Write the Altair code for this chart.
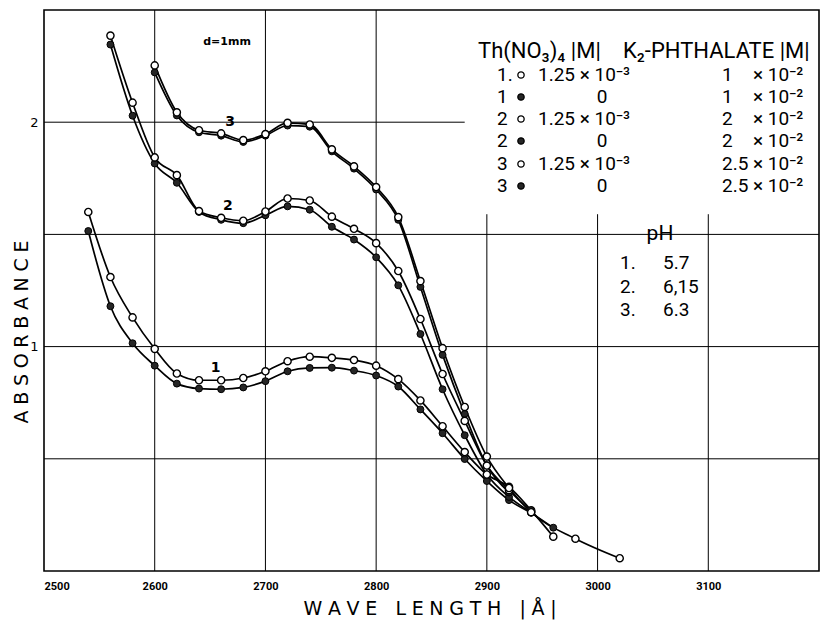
import altair as alt
import pandas as pd

# ---------------- data ----------------
c1_open_wl = [2540, 2560, 2580, 2600, 2620, 2640, 2660, 2680, 2700, 2720, 2740, 2760, 2780,
              2800, 2820, 2840, 2860, 2880, 2900, 2920, 2940, 2960]
c1_open_ab = [1.60, 1.31, 1.13, 0.99, 0.88, 0.85, 0.85, 0.86, 0.89, 0.935, 0.955, 0.95, 0.94,
              0.915, 0.855, 0.76, 0.645, 0.53, 0.43, 0.375, 0.27, 0.153]

c1_fill_wl = [2540, 2560, 2580, 2600, 2620, 2640, 2660, 2680, 2700, 2720, 2740, 2760, 2780,
              2800, 2820, 2840, 2860, 2880, 2900, 2920, 2940]
c1_fill_ab = [1.515, 1.18, 1.015, 0.915, 0.835, 0.813, 0.81, 0.818, 0.846, 0.89, 0.905, 0.906, 0.893,
              0.871, 0.822, 0.72, 0.614, 0.499, 0.401, 0.316, 0.26]

c2_open_wl = [2560, 2580, 2600, 2620, 2640, 2660, 2680, 2700, 2720, 2740, 2760, 2780, 2800,
              2820, 2840, 2860, 2880, 2900, 2920, 2940]
c2_open_ab = [2.386, 2.087, 1.843, 1.764, 1.604, 1.574, 1.561, 1.602, 1.66, 1.651, 1.579, 1.525, 1.461,
              1.337, 1.123, 0.878, 0.669, 0.47, 0.36, 0.265]

c2_fill_wl = [2560, 2580, 2600, 2620, 2640, 2660, 2680, 2700, 2720, 2740, 2760, 2780, 2800,
              2820, 2840, 2860, 2880, 2900, 2920, 2940, 2960]
c2_fill_ab = [2.346, 2.029, 1.816, 1.73, 1.60, 1.565, 1.55, 1.585, 1.625, 1.61, 1.534, 1.477, 1.398,
              1.273, 1.056, 0.81, 0.605, 0.43, 0.33, 0.26, 0.193]

c3_open_wl = [2600, 2620, 2640, 2660, 2680, 2700, 2720, 2740, 2760, 2780, 2800, 2820, 2840,
              2860, 2880, 2900, 2920, 2940, 2980, 3020]
c3_open_ab = [2.253, 2.044, 1.964, 1.95, 1.92, 1.947, 1.997, 1.99, 1.879, 1.803, 1.711, 1.577, 1.292,
              0.993, 0.731, 0.51, 0.37, 0.262, 0.144, 0.057]

c3_fill_wl = [2600, 2620, 2640, 2660, 2680, 2700, 2720, 2740, 2760, 2780, 2800, 2820, 2840,
              2860, 2880, 2900, 2920]
c3_fill_ab = [2.222, 2.03, 1.955, 1.94, 1.912, 1.94, 1.985, 1.98, 1.87, 1.793, 1.70, 1.565, 1.266,
              0.963, 0.70, 0.47, 0.35]

# grid lines (the upper right part is left free for the legend table)
vgrid_x = [2600, 2700, 2800, 2900, 3000, 3100]
vgrid_top = [2.5, 2.5, 2.5, 1.59, 1.59, 1.59]
hgrid_y = [2.0, 1.5, 1.0, 0.5]
hgrid_end = [2880, 3200, 3200, 3200]

x_ticks = [2500, 2600, 2700, 2800, 2900, 3000, 3100]
y_ticks = [1, 2]

curve_names = ["1", "2", "3"]
curve_label_wl = [2655, 2666, 2668]
curve_label_ab = [0.905, 1.625, 2.0]

th_rows = ["1.", "1", "2", "2", "3", "3"]
th_open = [True, False, True, False, True, False]
th_conc = ["1.25 × 10⁻³", "0", "1.25 × 10⁻³", "0", "1.25 × 10⁻³", "0"]
k2_mult = ["1", "1", "2", "2", "2.5", "2.5"]
k2_power = ["× 10⁻²"] * 6
ph_labels = ["1.", "2.", "3."]
ph_values = ["5.7", "6,15", "6.3"]

# ---------------- build ----------------
FONT = "Roboto, DejaVu Sans, sans-serif"
AFONT = "DejaVu Sans, sans-serif"
TS = "\u2009\u200a"      # thin + hair space, used as letter spacing
WS = "\u00a0\u00a0\u00a0"  # word gap


def spaced(word):
    return TS.join(list(word))


def sdf(wl, ab, name):
    return pd.DataFrame({"wl": wl, "ab": ab, "series": name})


open_df = pd.concat([sdf(c1_open_wl, c1_open_ab, "1o"),
                     sdf(c2_open_wl, c2_open_ab, "2o"),
                     sdf(c3_open_wl, c3_open_ab, "3o")])
fill_df = pd.concat([sdf(c1_fill_wl, c1_fill_ab, "1f"),
                     sdf(c2_fill_wl, c2_fill_ab, "2f"),
                     sdf(c3_fill_wl, c3_fill_ab, "3f")])
all_df = pd.concat([open_df, fill_df])

xs = alt.Scale(domain=[2500, 3200], nice=False, zero=False)
ys = alt.Scale(domain=[0, 2.5], nice=False, zero=False)
x_axis = alt.Axis(values=x_ticks, format="d", grid=False, ticks=False, domain=False, title=None,
                  labelFontSize=11, labelFont=FONT, labelColor="black", labelPadding=9,
                  labelFontWeight="bold")
y_axis = alt.Axis(values=y_ticks, format="d", grid=False, ticks=False, domain=False, title=None,
                  labelFontSize=13, labelFont=AFONT, labelColor="black", labelPadding=6)


def X(f):
    return alt.X(f, type="quantitative", scale=xs, axis=x_axis)


def Y(f):
    return alt.Y(f, type="quantitative", scale=ys, axis=y_axis)


vg = alt.Chart(pd.DataFrame({"gx": vgrid_x, "gtop": vgrid_top, "gbot": [0] * len(vgrid_x)})).mark_rule(
    color="black", strokeWidth=1).encode(x=X("gx"), y=Y("gbot"), y2="gtop")
hg = alt.Chart(pd.DataFrame({"gy": hgrid_y, "gx0": [2500] * len(hgrid_y), "gx1": hgrid_end})).mark_rule(
    color="black", strokeWidth=1).encode(y=Y("gy"), x=X("gx0"), x2="gx1")

lines = alt.Chart(all_df).mark_line(interpolate="monotone", color="black", strokeWidth=1.7).encode(
    x=X("wl"), y=Y("ab"), detail="series:N")
pts_fill = alt.Chart(fill_df).mark_point(shape="circle", filled=True, size=48, fill="#262626",
                                         stroke="black", strokeWidth=1, opacity=1).encode(
    x=X("wl"), y=Y("ab"))
pts_open = alt.Chart(open_df).mark_point(shape="circle", filled=True, size=52, fill="white",
                                         stroke="black", strokeWidth=1.4, opacity=1).encode(
    x=X("wl"), y=Y("ab"))

clabels = alt.Chart(pd.DataFrame({"wl": curve_label_wl, "ab": curve_label_ab, "t": curve_names})).mark_text(
    fontSize=14, font=AFONT, color="black", fontWeight="bold").encode(x=X("wl"), y=Y("ab"), text="t:N")

layers = [vg, hg, lines, pts_fill, pts_open, clabels]


def txt(s, x, y, size=18, align="left", font=FONT, weight="normal", angle=0):
    return alt.Chart(pd.DataFrame({"t": [s]})).mark_text(
        align=align, baseline="middle", fontSize=size, font=font, fontWeight=weight,
        angle=angle, color="black").encode(x=alt.value(x), y=alt.value(y), text="t:N")


def dot(x, y, is_open):
    return alt.Chart(pd.DataFrame({"t": [0]})).mark_point(
        shape="circle", filled=True, size=40, fill="white" if is_open else "#262626",
        stroke="black", strokeWidth=1.3, opacity=1).encode(x=alt.value(x), y=alt.value(y))


# annotations
layers.append(txt("d=1mm", 183, 32, size=11, align="center", font=AFONT, weight="bold"))
layers.append(txt("Th(NO₃)₄ |M|", 434, 41, size=22))
layers.append(txt("K₂-PHTHALATE |M|", 579, 41, size=22))
row_y = [65, 87, 109, 131, 154, 176]
for i in range(6):
    yy = row_y[i]
    layers.append(txt(th_rows[i], 453, yy, size=19))
    layers.append(dot(477, yy, th_open[i]))
    if th_open[i]:
        layers.append(txt(th_conc[i], 494, yy, size=19))
    else:
        layers.append(txt(th_conc[i], 558, yy, size=19, align="center"))
    layers.append(txt(k2_mult[i], 678, yy, size=19))
    layers.append(txt(k2_power[i], 709, yy, size=19))

layers.append(txt("pH", 616, 224, size=21, align="center"))
ph_y = [253, 277, 300]
for i in range(3):
    layers.append(txt(ph_labels[i], 576, ph_y[i], size=19))
    layers.append(txt(ph_values[i], 619, ph_y[i], size=19))

layers.append(txt(spaced("ABSORBANCE"), -22, 322, size=19, align="center", font=AFONT, angle=270))
layers.append(txt(spaced("WAVE") + WS + spaced("LENGTH") + WS + spaced("|Å|"), 386, 599,
                  size=19, align="center", font=AFONT))

chart = alt.layer(*layers).properties(
    width=775, height=561,
    padding={"left": 36, "top": 2, "right": 1, "bottom": 60},
    autosize=alt.AutoSizeParams(type="none"),
    background="white",
).configure_view(stroke="black", strokeWidth=1.6)

chart.save("out.html", embed_options={"renderer": "svg", "actions": False})
